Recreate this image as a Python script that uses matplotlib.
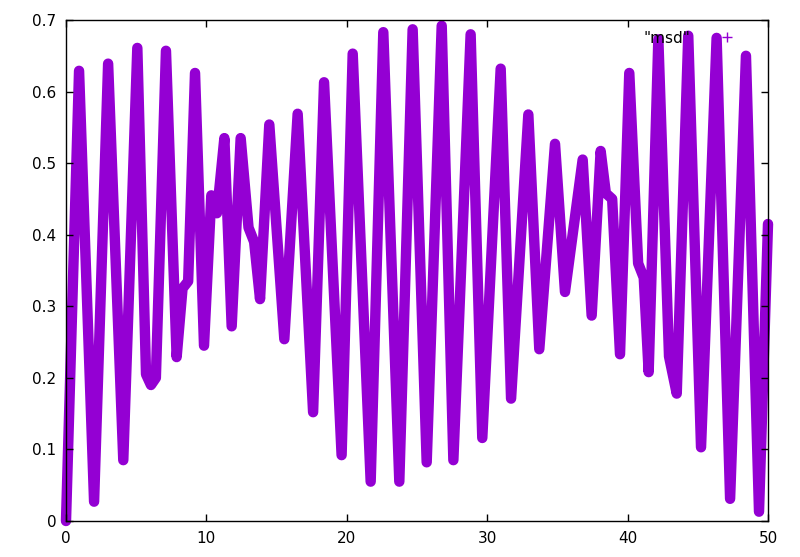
import numpy as np
import matplotlib
matplotlib.use("Agg")
import matplotlib.pyplot as plt
from matplotlib.lines import Line2D

# msd trace (peaks, troughs and shoulders)
msd_x = [0.00, 0.93, 2.00, 3.00, 4.08, 5.08, 5.70, 6.05, 6.40, 7.12,
         7.88, 8.30, 8.70, 9.19, 9.83, 10.35, 10.75, 11.28, 11.80, 12.44,
         13.00, 13.40, 13.82, 14.48, 15.55, 16.50, 17.60, 18.38, 19.63, 20.42,
         21.70, 22.60, 23.74, 24.69, 25.69, 26.76, 27.59, 28.82, 29.65, 30.96,
         31.70, 32.93, 33.71, 34.83, 35.54, 36.80, 37.44, 38.08, 38.45, 38.90,
         39.46, 40.12, 40.75, 41.15, 41.50, 42.19, 42.95, 43.50, 44.32, 45.23,
         46.34, 47.30, 48.43, 49.36, 50.00]
msd_y = [0.000, 0.629, 0.027, 0.639, 0.085, 0.661, 0.205, 0.190, 0.200, 0.657,
         0.229, 0.325, 0.335, 0.626, 0.245, 0.455, 0.430, 0.535, 0.272, 0.535,
         0.410, 0.390, 0.310, 0.554, 0.254, 0.569, 0.152, 0.613, 0.092, 0.653,
         0.055, 0.683, 0.055, 0.687, 0.082, 0.692, 0.085, 0.680, 0.116, 0.632,
         0.171, 0.568, 0.240, 0.527, 0.320, 0.505, 0.287, 0.517, 0.458, 0.450,
         0.233, 0.626, 0.360, 0.340, 0.208, 0.673, 0.230, 0.178, 0.678, 0.103,
         0.675, 0.031, 0.650, 0.013, 0.415]

x_ticks = [0, 10, 20, 30, 40, 50]
y_ticks = [0, 0.1, 0.2, 0.3, 0.4, 0.5, 0.6, 0.7]
y_labels = ["0", "0.1", "0.2", "0.3", "0.4", "0.5", "0.6", "0.7"]

color = "#9400d3"
plt.rcParams['font.family'] = ['DejaVu Sans']
plt.rcParams['font.size'] = 11

fig = plt.figure(figsize=(8.0, 5.57), dpi=100)
ax = fig.add_axes([66 / 800, 36 / 557, 702 / 800, 501 / 557])

ax.plot(msd_x, msd_y, color=color, lw=7.5, solid_joinstyle='round',
        solid_capstyle='round', clip_on=False, zorder=1)

ax.set_xlim(0, 50)
ax.set_ylim(0, 0.7)
ax.set_xticks(x_ticks)
ax.set_xticklabels([str(t) for t in x_ticks])
ax.set_yticks(y_ticks)
ax.set_yticklabels(y_labels)
ax.tick_params(direction='in', length=5, width=1, top=True, right=True,
               pad=7, colors='black')
for s in ax.spines.values():
    s.set_linewidth(1.0)
    s.set_color('black')
    s.set_zorder(3)

handle = Line2D([], [], color=color, marker='+', linestyle='none',
                markersize=7, markeredgewidth=1)
ax.legend([handle], ['"msd"'], loc='upper right', frameon=False,
          markerfirst=False, handlelength=3, handletextpad=0.9,
          borderaxespad=0.3, bbox_to_anchor=(0.99, 1.0))

fig.savefig("out.png", dpi=100)
